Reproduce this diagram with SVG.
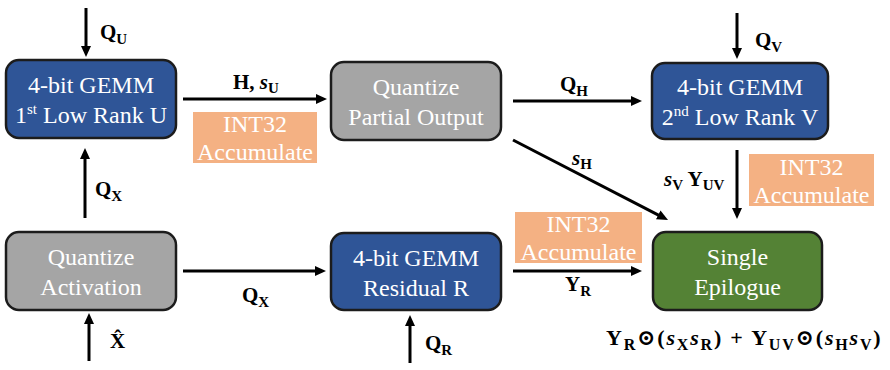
<svg xmlns="http://www.w3.org/2000/svg" width="890" height="370" viewBox="0 0 890 370">
<style>
.box{stroke:#1c1c1c;stroke-width:2.5}
.blue{fill:#2F5597}
.gray{fill:#A5A5A5}
.green{fill:#548235}
.acc{fill:#F4B183}
text{font-family:'Liberation Serif','DejaVu Serif',serif}
.bt{font-size:24px;fill:#fff;text-anchor:middle}
.lbl{font-size:21px;font-weight:bold;fill:#000}
.it{font-style:italic}
.sub{font-size:15px}
.fx{font-size:22px;font-weight:bold;fill:#000;letter-spacing:1.8px}
.fsub{font-size:16px}
.ar{stroke:#000;stroke-width:3;fill:none;marker-end:url(#ah)}
</style>
<defs>
<marker id="ah" markerUnits="userSpaceOnUse" markerWidth="12" markerHeight="10" refX="3" refY="5" orient="auto">
<path d="M0,0 L11,5 L0,10 z" fill="#000"/>
</marker>
</defs>
<rect width="890" height="370" fill="#fff"/>

<g id="connectors">
<line class="ar" x1="86" y1="8" x2="86" y2="49"/>
<line class="ar" x1="183" y1="99" x2="319" y2="99"/>
<line class="ar" x1="513" y1="101" x2="634" y2="101"/>
<line class="ar" x1="737" y1="13" x2="737" y2="51"/>
<line class="ar" x1="513" y1="140" x2="660.9" y2="216.3"/>
<line class="ar" x1="737" y1="150" x2="737" y2="211"/>
<line class="ar" x1="85" y1="218" x2="85" y2="156"/>
<line class="ar" x1="89" y1="361" x2="89" y2="321"/>
<line class="ar" x1="183" y1="271" x2="318" y2="271"/>
<line class="ar" x1="410" y1="363" x2="410" y2="323"/>
<line class="ar" x1="513" y1="271" x2="634" y2="271"/>
</g>

<g id="labels">
<text class="lbl" x="100" y="39">Q<tspan class="sub" dy="5">U</tspan></text>
<text class="lbl" x="233" y="89">H, <tspan class="it">s</tspan><tspan class="sub" dy="4">U</tspan></text>
<text class="lbl" x="560" y="91">Q<tspan class="sub" dy="5">H</tspan></text>
<text class="lbl" x="755" y="47">Q<tspan class="sub" dy="5">V</tspan></text>
<text class="lbl" x="572" y="165"><tspan class="it">s</tspan><tspan class="sub" dy="4">H</tspan></text>
<text class="lbl" x="664" y="186"><tspan class="it">s</tspan><tspan class="sub" dy="4">V</tspan><tspan dy="-4"> Y</tspan><tspan class="sub" dy="4">UV</tspan></text>
<text class="lbl" x="95" y="196">Q<tspan class="sub" dy="5">X</tspan></text>
<text class="lbl" x="242" y="302">Q<tspan class="sub" dy="5">X</tspan></text>
<text class="lbl" x="565" y="291">Y<tspan class="sub" dy="5">R</tspan></text>
<text class="lbl" x="425" y="350">Q<tspan class="sub" dy="5">R</tspan></text>
<text class="lbl" x="110" y="348">X̂</text>
<text class="fx" x="606" y="345">Y<tspan class="fsub" dy="5">R</tspan><tspan dy="-5">⊙(</tspan><tspan class="it">s</tspan><tspan class="fsub" dy="5">X</tspan><tspan class="it" dy="-5">s</tspan><tspan class="fsub" dy="5">R</tspan><tspan dy="-5">) + Y</tspan><tspan class="fsub" dy="5">UV</tspan><tspan dy="-5">⊙(</tspan><tspan class="it">s</tspan><tspan class="fsub" dy="5">H</tspan><tspan class="it" dy="-5">s</tspan><tspan class="fsub" dy="5">V</tspan><tspan dy="-5">)</tspan></text>
</g>

<g id="acc1">
<rect class="acc" x="193" y="112" width="124" height="51"/>
<text class="bt" x="255" y="132">INT32</text>
<text class="bt" x="255" y="160">Accumulate</text>
</g>
<g id="acc2">
<rect class="acc" x="515" y="212" width="127" height="51"/>
<text class="bt" x="578.5" y="232">INT32</text>
<text class="bt" x="578.5" y="260">Accumulate</text>
</g>
<g id="acc3">
<rect class="acc" x="749" y="154" width="125" height="52"/>
<text class="bt" x="811.5" y="175">INT32</text>
<text class="bt" x="811.5" y="203">Accumulate</text>
</g>

<g id="gemmU">
<rect class="box blue" x="6" y="60" width="170" height="78" rx="13"/>
<text class="bt" x="91" y="93">4-bit GEMM</text>
<text class="bt" x="91" y="123">1<tspan font-size="15" dy="-9">st</tspan><tspan dy="9"> Low Rank U</tspan></text>
</g>
<g id="quantPartial">
<rect class="box gray" x="331" y="62" width="170" height="78" rx="13"/>
<text class="bt" x="416" y="95">Quantize</text>
<text class="bt" x="416" y="125">Partial Output</text>
</g>
<g id="gemmV">
<rect class="box blue" x="652" y="63" width="176" height="76" rx="13"/>
<text class="bt" x="740" y="95">4-bit GEMM</text>
<text class="bt" x="740" y="125">2<tspan font-size="15" dy="-9">nd</tspan><tspan dy="9"> Low Rank V</tspan></text>
</g>
<g id="quantAct">
<rect class="box gray" x="6" y="232" width="170" height="78" rx="13"/>
<text class="bt" x="91" y="265">Quantize</text>
<text class="bt" x="91" y="295">Activation</text>
</g>
<g id="gemmR">
<rect class="box blue" x="331" y="233" width="170" height="77" rx="13"/>
<text class="bt" x="416" y="266">4-bit GEMM</text>
<text class="bt" x="416" y="296">Residual R</text>
</g>
<g id="epilogue">
<rect class="box green" x="653" y="232" width="169" height="78" rx="13"/>
<text class="bt" x="737.5" y="265">Single</text>
<text class="bt" x="737.5" y="295">Epilogue</text>
</g>
</svg>
